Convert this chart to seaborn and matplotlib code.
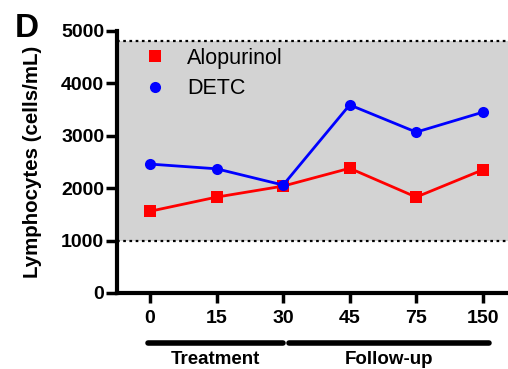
import matplotlib
matplotlib.use("Agg")
import matplotlib.pyplot as plt
import seaborn as sns
import pandas as pd

days = ["0", "15", "30", "45", "75", "150"]
alopurinol = [1560, 1830, 2040, 2380, 1830, 2350]
detc = [2460, 2370, 2060, 3590, 3070, 3450]
ref_low, ref_high = 1000, 4800
y_ticks = [0, 1000, 2000, 3000, 4000, 5000]

sns.set_style("ticks")
plt.rcParams["font.family"] = ["Liberation Sans", "DejaVu Sans"]
plt.rcParams["text.color"] = "black"
plt.rcParams["axes.labelcolor"] = "black"
plt.rcParams["xtick.color"] = "black"
plt.rcParams["ytick.color"] = "black"
plt.rcParams["axes.edgecolor"] = "black"

df = pd.DataFrame({
    "day": days * 2,
    "pos": list(range(len(days))) * 2,
    "value": alopurinol + detc,
    "group": ["Alopurinol"] * len(days) + ["DETC"] * len(days),
})

fig = plt.figure(figsize=(5.08, 3.69), dpi=100)
ax = fig.add_axes([0.230, 0.206, 0.770, 0.710])

# reference range band
ax.axhspan(ref_low, ref_high, color="#D3D3D3", zorder=0, lw=0)
for v in (ref_low, ref_high):
    ax.axhline(v, color="black", ls=(0, (1.2, 1.6)), lw=1.6, zorder=1)

sns.lineplot(
    data=df, x="pos", y="value", hue="group", style="group",
    palette={"Alopurinol": "#FF0000", "DETC": "#0000FF"},
    markers={"Alopurinol": "s", "DETC": "o"}, dashes=False,
    markersize=8, markeredgewidth=0, linewidth=2, ax=ax, zorder=3,
)

ax.set_xlim(-0.5, 5.38)
ax.set_ylim(0, 5000)
ax.set_xticks(range(len(days)))
ax.set_xticklabels(days)
ax.set_yticks(y_ticks)
ax.set_xlabel("")
ax.set_ylabel("Lymphocytes (cells/mL)", fontsize=14.8, fontweight="bold", labelpad=14)

for lab in ax.get_xticklabels() + ax.get_yticklabels():
    lab.set_fontweight("bold")
    lab.set_fontsize(14)
ax.tick_params(axis="both", width=2.5, color="black")
ax.tick_params(axis="x", length=7, pad=5)
ax.tick_params(axis="y", length=8, pad=1)

for side in ("top", "right"):
    ax.spines[side].set_visible(False)
for side in ("left", "bottom"):
    ax.spines[side].set_linewidth(3)
ax.spines["left"].set_bounds(0, 5000)

leg = ax.legend(loc="upper left", bbox_to_anchor=(0.02, 1.01), frameon=False,
                fontsize=15.5, handlelength=1.0, handletextpad=1.0, labelspacing=0.45)
for h in leg.legend_handles:
    h.set_linestyle("none")

# phase brackets below the axis
trans = ax.get_xaxis_transform()
phases = [("Treatment", -0.03, 2.0), ("Follow-up", 2.09, 5.1)]
for name, x0, x1 in phases:
    ax.plot([x0, x1], [-0.19, -0.19], color="black", lw=4, solid_capstyle="round",
            transform=trans, clip_on=False)
    ax.text((x0 + x1) / 2, -0.272, name, transform=trans, ha="center", va="baseline",
            fontsize=13.5, fontweight="bold")

fig.text(0.03, 0.965, "D", fontsize=24, fontweight="bold", va="top", ha="left")

fig.savefig("out.png", dpi=100)
